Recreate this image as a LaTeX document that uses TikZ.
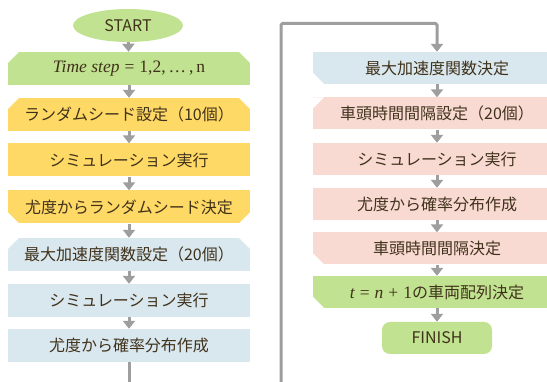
\documentclass[tikz,border=0pt]{standalone}
\usepackage{fontspec}
\setmainfont{Noto Sans CJK JP}
\newfontfamily\serifm{Liberation Serif}
\usetikzlibrary{arrows.meta,shapes.geometric}
\definecolor{cgreen}{RGB}{193,226,145}
\definecolor{cyellow}{RGB}{255,217,102}
\definecolor{cblue}{RGB}{217,231,239}
\definecolor{cpink}{RGB}{249,218,211}
\definecolor{ctext}{RGB}{64,50,26}
\definecolor{cgray}{RGB}{158,158,158}
\newcommand\gapx{\hspace{5pt}}
\tikzset{
  box/.style={rectangle, inner sep=0pt, minimum height=33pt, text=ctext,
    font=\fontsize{16}{19}\selectfont},
  lbox/.style={box, minimum width=242pt},
  rbox/.style={box, minimum width=248pt, minimum height=32pt},
  topcut/.style={path picture={
    \fill[white] (path picture bounding box.north west) -- ++(11pt,0pt) -- ++(-11pt,-11pt) -- cycle;
    \fill[white] (path picture bounding box.north east) -- ++(-11pt,0pt) -- ++(11pt,-11pt) -- cycle;}},
  botcut/.style={path picture={
    \fill[white] (path picture bounding box.south west) -- ++(11pt,0pt) -- ++(-11pt,11pt) -- cycle;
    \fill[white] (path picture bounding box.south east) -- ++(-11pt,0pt) -- ++(11pt,11pt) -- cycle;}},
  conn/.style={draw=cgray, line width=3pt},
  arr/.style={conn, -{Triangle[width=12pt,length=8pt]}},
}
\begin{document}
\begin{tikzpicture}[x=1pt,y=1pt]
\clip (0,0) rectangle (547,382);
\fill[white] (0,0) rectangle (547,382);
% left column
\node[ellipse, fill=cgreen, minimum width=110pt, minimum height=33pt, inner sep=0pt,
  text=ctext, font=\fontsize{16}{19}\selectfont] (start) at (128,356.5) {START};
\node[lbox, fill=cgreen, topcut] (b1) at (129,313.5) {{\serifm\fontsize{17.5}{19}\selectfont\itshape Time step}{\serifm\fontsize{17.5}{19}\selectfont\gapx=\gapx1,2,\,…\,,\,n}};
\node[lbox, fill=cyellow, topcut] (b2) at (129,267.5) {ランダムシード設定（10個）};
\node[lbox, fill=cyellow] (b3) at (129,222) {シミュレーション実行};
\node[lbox, fill=cyellow, botcut] (b4) at (129,175) {尤度からランダムシード決定};
\node[lbox, fill=cblue, topcut] (b5) at (129,127.5) {最大加速度関数設定（20個）};
\node[lbox, fill=cblue] (b6) at (129,81.5) {シミュレーション実行};
\node[lbox, fill=cblue] (b7) at (129,36.5) {尤度から確率分布作成};
\coordinate (lend) at (129,0);
% right column
\node[rbox, fill=cblue, botcut] (r1) at (437,314) {最大加速度関数決定};
\node[rbox, fill=cpink, topcut] (r2) at (437,268.5) {車頭時間間隔設定（20個）};
\node[rbox, fill=cpink] (r3) at (437,223) {シミュレーション実行};
\node[rbox, fill=cpink] (r4) at (437,178) {尤度から確率分布作成};
\node[rbox, fill=cpink, botcut] (r5) at (437,133.5) {車頭時間間隔決定};
\node[rbox, fill=cgreen, botcut] (r6) at (437,90) {{\serifm\fontsize{17.5}{19}\selectfont\itshape t}{\serifm\fontsize{17.5}{19}\selectfont\gapx=\gapx\textit{n}\gapx+\gapx1}の車両配列決定};
\node[rectangle, rounded corners=8pt, fill=cgreen, minimum width=110pt, minimum height=32pt,
  inner sep=0pt, text=ctext, font=\fontsize{16}{19}\selectfont] (fin) at (437,44) {FINISH};
\coordinate (lb) at (281,0);
\coordinate (lt) at (281,358.5);
% connectors
\draw[arr] (start) -- (b1);
\draw[arr] (b1) -- (b2);
\draw[arr] (b2) -- (b3);
\draw[arr] (b3) -- (b4);
\draw[arr] (b4) -- (b5);
\draw[arr] (b5) -- (b6);
\draw[arr] (b6) -- (b7);
\draw[conn] (b7.south) -- (lend);
\draw[arr, rounded corners=1.5pt] (lb) -- (lt) -| (r1.north);
\draw[arr] (r1) -- (r2);
\draw[arr] (r2) -- (r3);
\draw[arr] (r3) -- (r4);
\draw[arr] (r4) -- (r5);
\draw[arr] (r5) -- (r6);
\draw[arr] (r6) -- (fin);
\end{tikzpicture}
\end{document}
